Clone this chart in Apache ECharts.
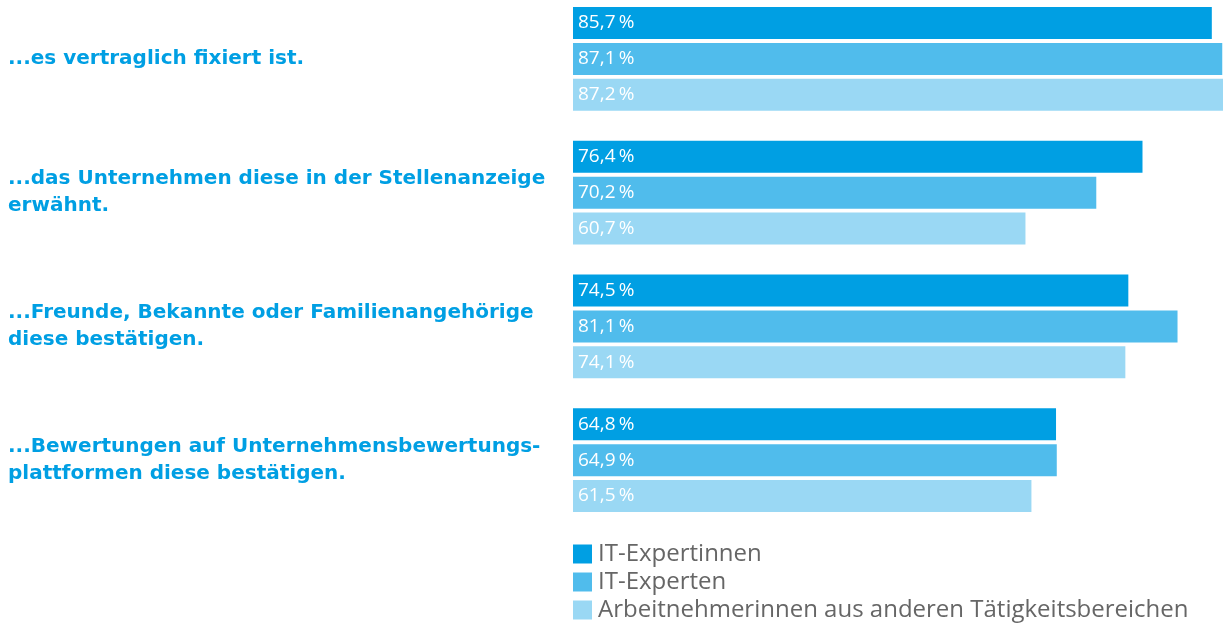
<!DOCTYPE html>
<html>
<head>
<meta charset="utf-8">
<title>Bewertung</title>
<style>
  html, body { margin: 0; padding: 0; background: #fff; overflow: hidden; }
  /* Diagramm um 8px nach oben geschoben, damit der erste Balken bei y=7 beginnt */
  #chart { position: absolute; left: 0; top: -8px; width: 1228px; height: 631px; }
</style>
</head>
<body>
<div id="chart"></div>
<script src="https://cdn.jsdelivr.net/npm/echarts@6/dist/echarts.min.js"></script>
<script>
// Kategorien (Y-Achse)
var categories = [
  '...es vertraglich fixiert ist.',
  '...das Unternehmen diese in der Stellenanzeige\nerwähnt.',
  '...Freunde, Bekannte oder Familienangehörige\ndiese bestätigen.',
  '...Bewertungen auf Unternehmensbewertungs-\nplattformen diese bestätigen.'
];
var seriesNames = ['IT-Expertinnen', 'IT-Experten', 'Arbeitnehmerinnen aus anderen Tätigkeitsbereichen'];
var expertinnen = [85.7, 76.4, 74.5, 64.8];
var experten = [87.1, 70.2, 81.1, 64.9];
var andere = [87.2, 60.7, 74.1, 61.5];
var colors = ['#009fe3', '#50bcec', '#9ad8f4'];

var chart = echarts.init(document.getElementById('chart'));

function makeSeries(name, data, color) {
  return {
    name: name,
    type: 'bar',
    data: data,
    barWidth: 32,
    barGap: '12%',
    itemStyle: { color: color },
    label: {
      show: true,
      position: 'insideLeft',
      offset: [0, 0],
      color: '#fff',
      fontSize: 19,
      fontFamily: 'Open Sans',
      formatter: function (p) {
        return p.value.toFixed(1).replace('.', ',') + '\u2009%';
      }
    },
    emphasis: { disabled: true }
  };
}

var option = {
  animation: false,
  grid: { left: 573, top: 0, width: 650, height: 535 },
  xAxis: {
    type: 'value', min: 0, max: 87.2, show: false
  },
  yAxis: {
    type: 'category',
    data: categories,
    inverse: true,
    axisLine: { show: false },
    axisTick: { show: false },
    axisLabel: {
      margin: 565,
      align: 'left',
      color: '#009fe3',
      fontSize: 20,
      fontWeight: 'bold',
      fontFamily: 'DejaVu Sans',
      lineHeight: 27,
      padding: [5, 0, 0, 0]
    }
  },
  legend: {
    orient: 'vertical',
    left: 573,
    top: 550,
    padding: 0,
    itemWidth: 19,
    itemHeight: 19,
    itemGap: 4,
    icon: 'rect',
    data: seriesNames,
    textStyle: { color: '#666', fontSize: 24, fontFamily: 'Open Sans', lineHeight: 24, padding: [0, 0, 0, 1] },
    selectedMode: false
  },
  series: [
    makeSeries(seriesNames[0], expertinnen, colors[0]),
    makeSeries(seriesNames[1], experten, colors[1]),
    makeSeries(seriesNames[2], andere, colors[2])
  ]
};

chart.setOption(option);
</script>
</body>
</html>
